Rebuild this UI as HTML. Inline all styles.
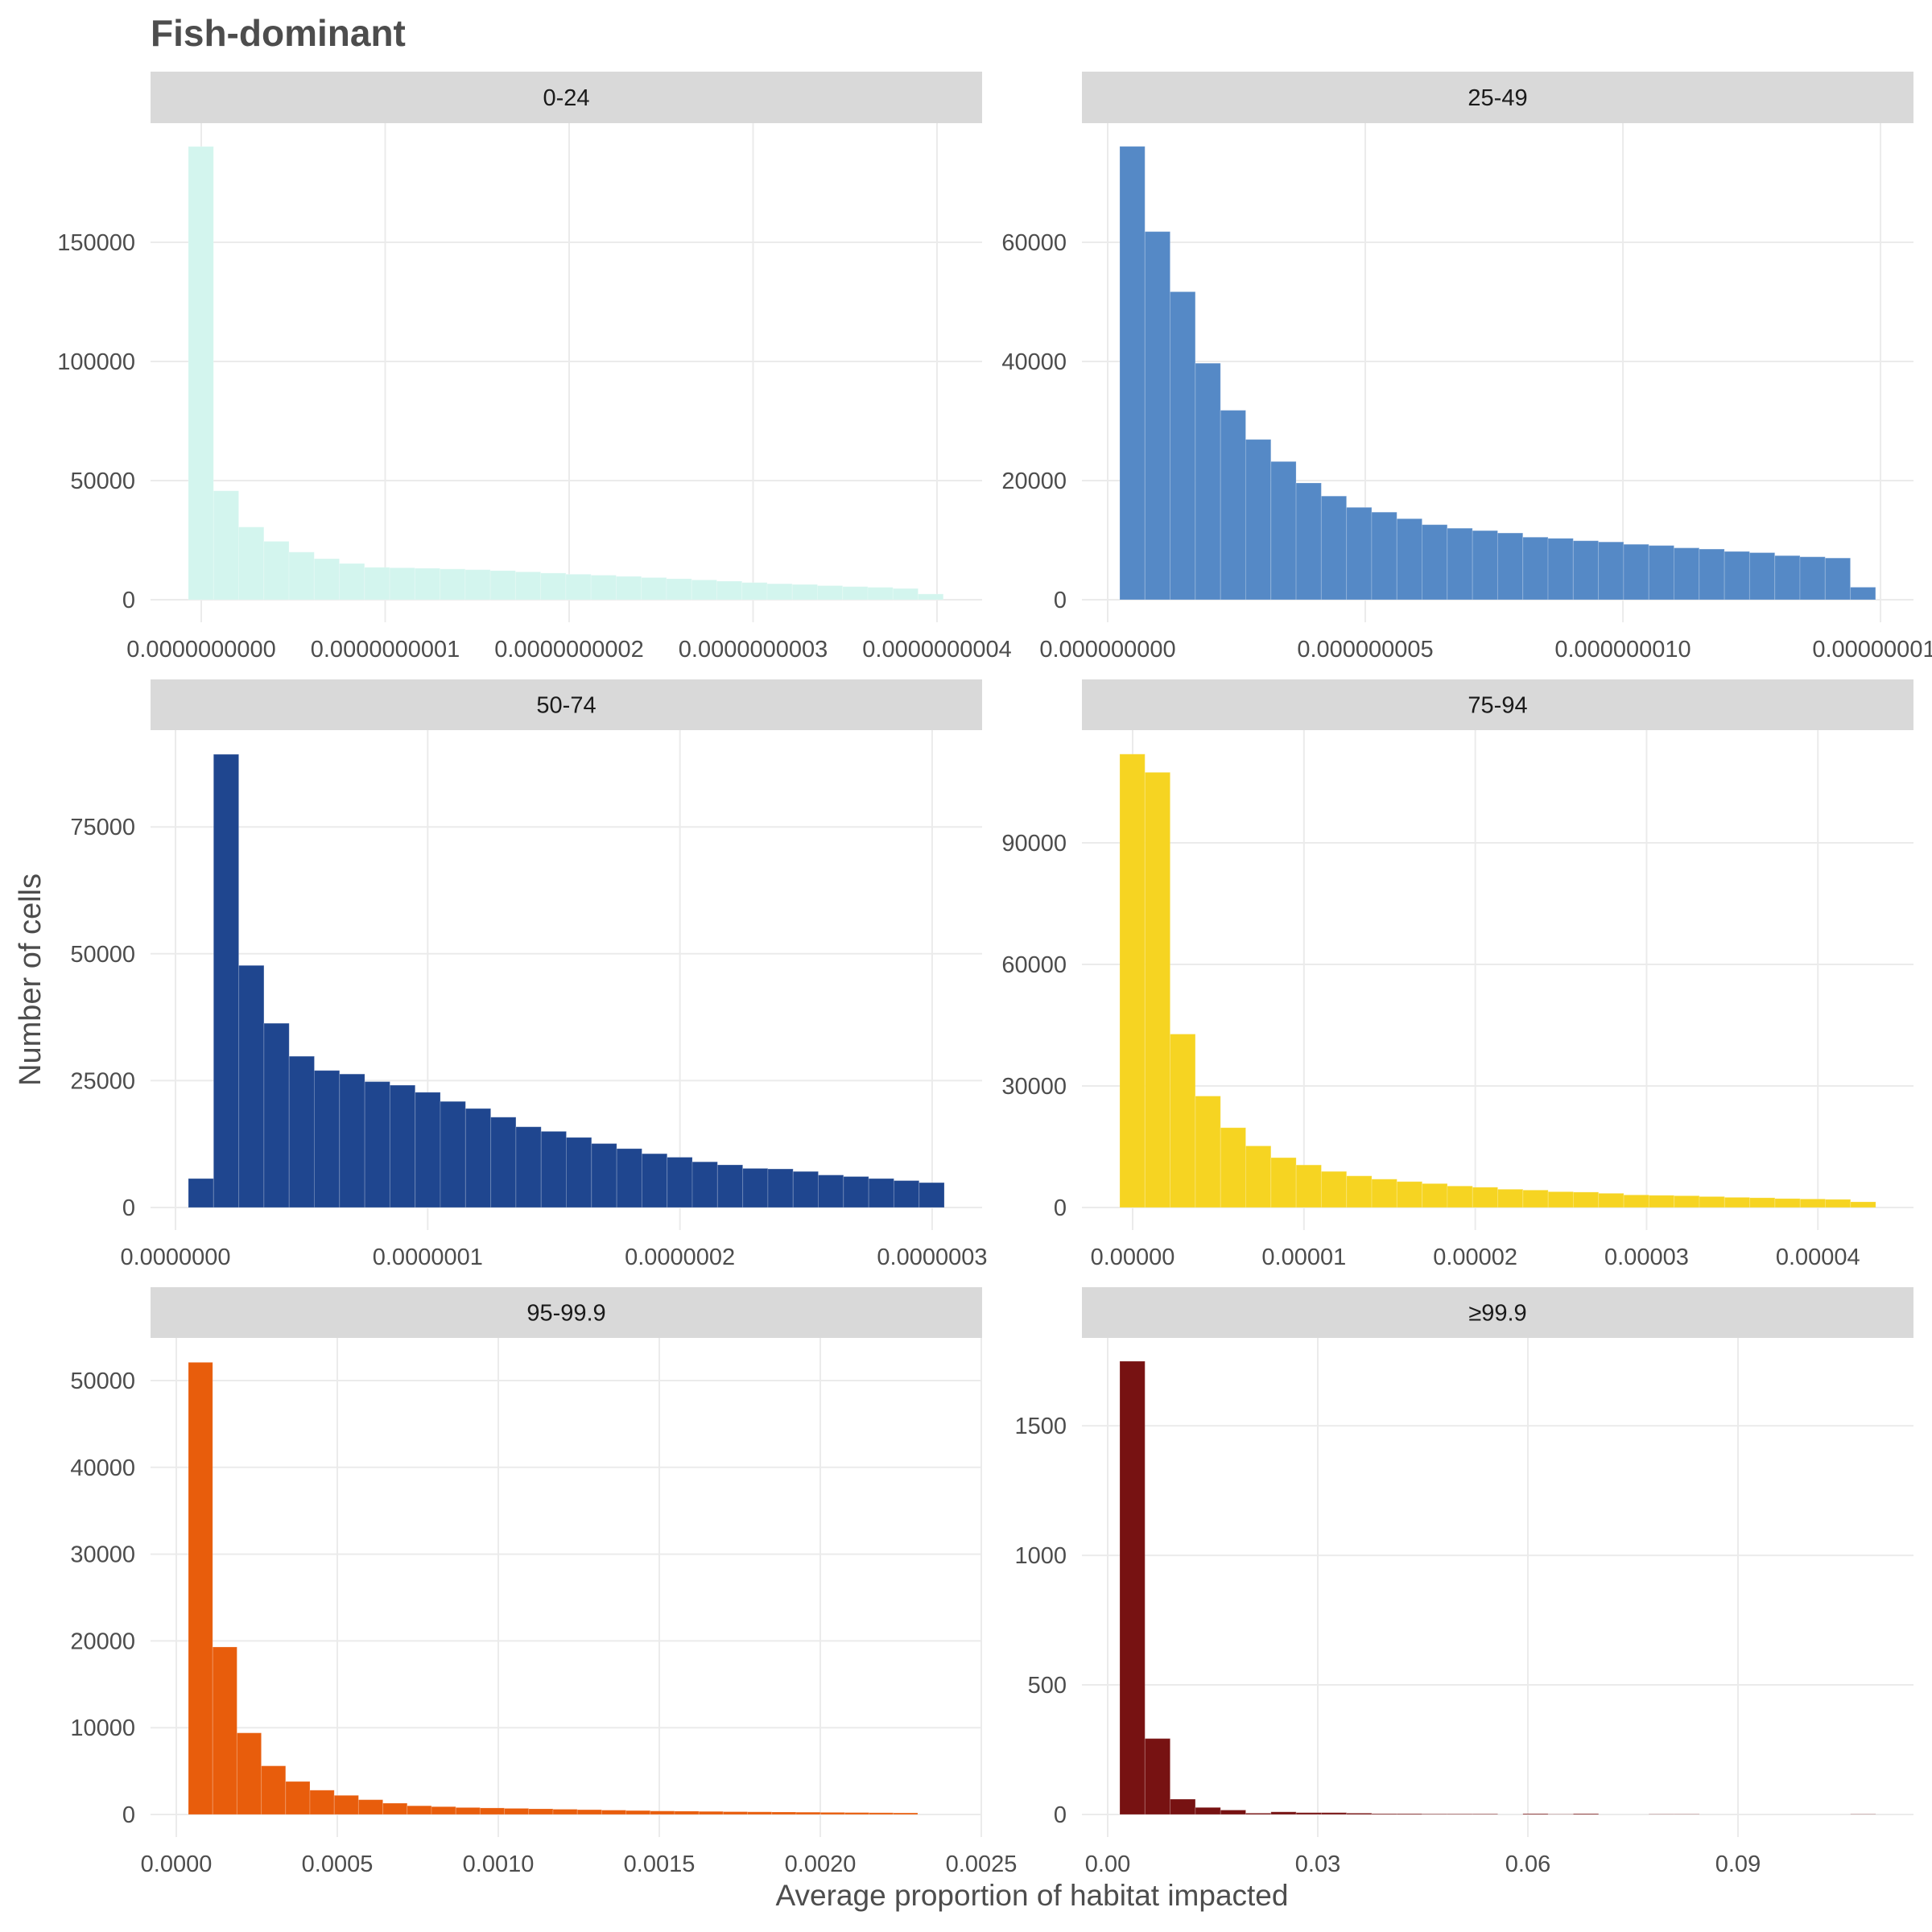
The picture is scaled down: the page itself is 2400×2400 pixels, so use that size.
<!DOCTYPE html>
<html><head><meta charset="utf-8"><style>
html,body{margin:0;padding:0;background:#fff;}
svg{display:block;font-family:"Liberation Sans","DejaVu Sans",sans-serif;}
</style></head><body>
<svg id="chart" width="2400" height="2400" viewBox="0 0 2400 2400">
<rect width="2400" height="2400" fill="#fff"/>
<text x="187" y="57" font-size="46" font-weight="bold" fill="#4d4d4d">Fish-dominant</text>
<text x="1282" y="2367" font-size="37" fill="#4d4d4d" text-anchor="middle">Average proportion of habitat impacted</text>
<text x="0" y="0" font-size="38" fill="#4d4d4d" text-anchor="middle" transform="translate(50,1217) rotate(-90)">Number of cells</text>
<g id="panels"></g>
</svg>
<script>
// ---- data ----
const panelNames = ["0-24","25-49","50-74","75-94","95-99.9","≥99.9"];
const counts_0_24 = [190200,45700,30500,24500,20000,17200,15200,13600,13400,13200,12900,12600,12200,11700,11200,10700,10300,9800,9300,8800,8300,7800,7200,6700,6400,5900,5500,5200,4700,2400];
const counts_25_49 = [76100,61800,51700,39700,31800,26900,23200,19600,17400,15500,14700,13600,12600,12000,11600,11200,10500,10300,9900,9700,9300,9100,8700,8500,8100,7900,7400,7200,7000,2100];
const counts_50_74 = [5700,89300,47700,36300,29800,27000,26300,24800,24100,22700,20900,19500,17800,15900,15000,13800,12600,11600,10600,9900,9000,8400,7700,7600,7100,6400,6100,5700,5300,4900];
const counts_75_94 = [111900,107400,42800,27500,19700,15200,12300,10500,8900,7800,7000,6400,5900,5300,5000,4500,4300,3900,3800,3500,3100,3000,2900,2700,2500,2400,2200,2100,2000,1400];
const counts_95_999 = [52100,19300,9400,5600,3800,2800,2200,1700,1300,1000,900,800,750,700,650,600,550,500,450,400,380,350,320,300,280,260,240,220,200,180];
const counts_ge999 = [1749,293,59,27,17,5,10,7,7,5,3,3,2,2,2,0,3,1,3,0,0,1,1,0,0,0,0,0,0,1];
const binStarts = [-0.0700e-10, 0.234e-9, 0.0511e-7, -0.0752e-5, 0.0000375, 0.001724];
const binWidths = [0.1368e-10, 0.489e-9, 0.0999e-7, 0.1471e-5, 0.0000755, 0.003598];
const xDomains = [[-0.2757e-10,4.245e-10],[-0.5e-9,15.64e-9],[-0.0989e-7,3.198e-7],[-0.296e-5,4.558e-5],[-0.00008,0.0025025],[-0.00368,0.11506]];
const yDomains = [[-9459,200000],[-3784,80000],[-4442,94067],[-5563,117815],[-2597,54917],[-87,1839]];
const xTickValues = [[0,1e-10,2e-10,3e-10,4e-10],[0,5e-9,1e-8,1.5e-8],[0,1e-7,2e-7,3e-7],[0,1e-5,2e-5,3e-5,4e-5],[0,0.0005,0.001,0.0015,0.002,0.0025],[0,0.03,0.06,0.09]];
const xTickLabels = [["0.0000000000","0.0000000001","0.0000000002","0.0000000003","0.0000000004"],["0.000000000","0.000000005","0.000000010","0.000000015"],["0.0000000","0.0000001","0.0000002","0.0000003"],["0.00000","0.00001","0.00002","0.00003","0.00004"],["0.0000","0.0005","0.0010","0.0015","0.0020","0.0025"],["0.00","0.03","0.06","0.09"]];
const yTickValues = [[0,50000,100000,150000],[0,20000,40000,60000],[0,25000,50000,75000],[0,30000,60000,90000],[0,10000,20000,30000,40000,50000],[0,500,1000,1500]];
const allCounts = [counts_0_24,counts_25_49,counts_50_74,counts_75_94,counts_95_999,counts_ge999];
const fills = ["#d3f5ee","#5589c6","#1f468f","#f6d422","#e85d0c","#771212"];
// ---- layout ----
const colX = [[187,1220],[1344,2377]];
const rowY = [[89,153,773],[844,907,1528],[1599,1662,2282]];
const NS = "http://www.w3.org/2000/svg";
function mk(tag, attrs, parent){const e=document.createElementNS(NS,tag);for(const k in attrs)e.setAttribute(k,attrs[k]);parent.appendChild(e);return e;}
const root = document.getElementById("panels");
for(let p=0;p<6;p++){
  const c=p%2, r=Math.floor(p/2);
  const L=colX[c][0], R=colX[c][1], sT=rowY[r][0], T=rowY[r][1], B=rowY[r][2];
  const xd=xDomains[p], yd=yDomains[p];
  const xs=v=>L+(v-xd[0])/(xd[1]-xd[0])*(R-L);
  const ys=v=>B-(v-yd[0])/(yd[1]-yd[0])*(B-T);
  const g=mk("g",{},root);
  
  
  const strip=mk("rect",{x:L,y:sT,width:R-L,height:T-sT,fill:"#d9d9d9"},g);
  
  
  const st=mk("text",{x:(L+R)/2,y:(sT+T)/2+10,"font-size":29,fill:"#1a1a1a","text-anchor":"middle"},g);
  st.textContent=panelNames[p];
  
  
  yTickValues[p].forEach(v=>{
    const y=ys(v);
    const gl=mk("line",{x1:L,x2:R,y1:y,y2:y,stroke:"#ebebeb","stroke-width":2},g);
    
    
    const t=mk("text",{x:L-19,y:y+10,"font-size":29,fill:"#4d4d4d","text-anchor":"end"},g);
    t.textContent=String(v);
    
    
  });
  xTickValues[p].forEach((v,i)=>{
    const x=xs(v);
    const gl=mk("line",{x1:x,x2:x,y1:T,y2:B,stroke:"#ebebeb","stroke-width":2},g);
    
    
    const t=mk("text",{x:x,y:ys(0)+71,"font-size":29,fill:"#4d4d4d","text-anchor":"middle"},g);
    t.textContent=xTickLabels[p][i];
    
    
  });
  allCounts[p].forEach((v,i)=>{
    const x0=xs(binStarts[p]+i*binWidths[p]), x1=xs(binStarts[p]+(i+1)*binWidths[p]);
    const y0=ys(0), y1=ys(v);
    const b=mk("rect",{x:x0,y:y1,width:x1-x0,height:Math.max(0,y0-y1),fill:fills[p],stroke:"rgba(255,255,255,0.2)","stroke-width":1},g);
    
    
  });
}
</script>
</body></html>
